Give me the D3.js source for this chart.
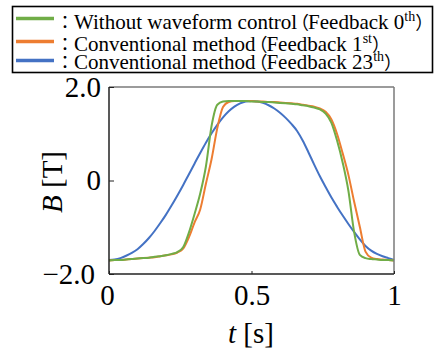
<!DOCTYPE html>
<html>
<head>
<meta charset="utf-8">
<script src="https://cdn.jsdelivr.net/npm/d3@7"></script>
<style>
  html, body { margin: 0; padding: 0; background: #fff; }
  svg { display: block; }
</style>
</head>
<body>
<svg id="chart" width="436" height="350"></svg>
<script>
// ---- data ----
const timeValues = [0,0.02,0.04,0.06,0.08,0.10,0.12,0.14,0.16,0.18,0.20,0.22,0.24,0.26,0.28,0.30,0.32,0.34,0.36,0.38,0.40,0.42,0.44,0.46,0.48,0.50,0.52,0.54,0.56,0.58,0.60,0.62,0.64,0.66,0.68,0.70,0.72,0.74,0.76,0.78,0.80,0.82,0.84,0.86,0.88,0.90,0.92,0.94,0.96,0.98,1.00];
const feedback0 = [-1.71,-1.70,-1.70,-1.69,-1.68,-1.67,-1.66,-1.65,-1.63,-1.62,-1.60,-1.57,-1.53,-1.43,-1.12,-0.72,-0.28,0.30,1.17,1.62,1.69,1.70,1.70,1.70,1.70,1.69,1.69,1.68,1.68,1.67,1.66,1.65,1.64,1.63,1.61,1.59,1.56,1.52,1.43,1.24,0.86,0.38,-0.22,-1.10,-1.59,-1.66,-1.68,-1.69,-1.70,-1.70,-1.71];
const feedback1 = [-1.71,-1.70,-1.70,-1.69,-1.68,-1.67,-1.66,-1.65,-1.64,-1.62,-1.60,-1.58,-1.54,-1.46,-1.22,-0.90,-0.62,-0.07,0.46,1.12,1.57,1.68,1.70,1.70,1.70,1.70,1.69,1.69,1.68,1.68,1.67,1.66,1.65,1.64,1.62,1.60,1.58,1.54,1.47,1.31,1.00,0.58,0.12,-0.45,-0.99,-1.52,-1.65,-1.68,-1.69,-1.70,-1.71];
const feedback23 = [-1.70,-1.69,-1.66,-1.61,-1.55,-1.47,-1.36,-1.23,-1.08,-0.91,-0.73,-0.53,-0.32,-0.10,0.13,0.36,0.59,0.81,1.01,1.19,1.35,1.48,1.58,1.65,1.69,1.70,1.69,1.66,1.61,1.54,1.45,1.34,1.21,1.06,0.85,0.60,0.34,0.09,-0.14,-0.36,-0.56,-0.75,-0.93,-1.10,-1.26,-1.40,-1.50,-1.57,-1.62,-1.66,-1.70];
const seriesNames = ["Without waveform control", "Conventional method", "Conventional method"];
const seriesOrders = ["0", "1", "23"];
const seriesSup = ["th", "st", "th"];
const seriesColors = ["#70AD47", "#ED7D31", "#4472C4"];
const xTicks = [0, 0.5, 1];
const xTickLabels = ["0", "0.5", "1"];
const yTicks = [-2, 0, 2];
const yTickLabels = ["\u22122.0", "0", "2.0"];

// ---- layout ----
const SERIF = "'Liberation Serif'";
const CJK = "'Noto Sans CJK JP'";
const svg = d3.select("#chart");
const plot = { left: 109, right: 394, top: 87, bottom: 274 };
const x = d3.scaleLinear().domain([0, 1]).range([plot.left, plot.right]);
const y = d3.scaleLinear().domain([-2, 2]).range([plot.bottom, plot.top]);

const seriesData = [feedback0, feedback1, feedback23];

const line = d3.line()
  .x((d, i) => x(timeValues[i]))
  .y(d => y(d))
  .curve(d3.curveMonotoneX);

[2, 1, 0].forEach(k => {
  svg.append("path")
    .datum(seriesData[k])
    .attr("d", line)
    .attr("fill", "none")
    .attr("stroke", seriesColors[k])
    .attr("stroke-width", 2);
});

// frame
svg.append("line").attr("x1", plot.left).attr("x2", plot.right).attr("y1", plot.top).attr("y2", plot.top)
  .attr("stroke", "#7a7a7a").attr("stroke-width", 1.5);
svg.append("line").attr("x1", plot.right).attr("x2", plot.right).attr("y1", plot.top).attr("y2", plot.bottom)
  .attr("stroke", "#7a7a7a").attr("stroke-width", 1.5);
svg.append("line").attr("x1", plot.left).attr("x2", plot.left).attr("y1", plot.top).attr("y2", plot.bottom)
  .attr("stroke", "#222").attr("stroke-width", 1.5);
svg.append("line").attr("x1", plot.left).attr("x2", plot.right).attr("y1", plot.bottom).attr("y2", plot.bottom)
  .attr("stroke", "#222").attr("stroke-width", 1.5);

// axes
const yAxis = d3.axisLeft(y).tickValues(yTicks)
  .tickFormat((d, i) => yTickLabels[i]).tickSizeInner(-5).tickSizeOuter(0).tickPadding(8);
const gy = svg.append("g").attr("transform", `translate(${plot.left},0)`).call(yAxis);
gy.attr("font-family", null).attr("font-size", null);
gy.select(".domain").remove();
gy.selectAll("line").attr("stroke", "#222").attr("stroke-width", 1);
gy.selectAll("text").style("font-family", SERIF).style("font-size", "29px")
  .attr("fill", "#000")
  .attr("dx", d => d === yTicks[0] ? -6 : 0);

const xAxis = d3.axisBottom(x).tickValues(xTicks)
  .tickFormat((d, i) => xTickLabels[i]).tickSizeInner(-3).tickSizeOuter(0).tickPadding(10);
const gx = svg.append("g").attr("transform", `translate(0,${plot.bottom})`).call(xAxis);
gx.attr("font-family", null).attr("font-size", null);
gx.select(".domain").remove();
gx.selectAll("line").attr("stroke", "#222").attr("stroke-width", 1);
gx.selectAll("text").style("font-family", SERIF).style("font-size", "29px")
  .attr("fill", "#000")
  .attr("dx", d => d === xTicks[0] ? -2 : 0);

// axis titles
const xt = svg.append("text").attr("x", 251).attr("y", 343).attr("text-anchor", "middle")
  .style("font-family", SERIF).style("font-size", "29px");
xt.append("tspan").style("font-style", "italic").text("t");
xt.append("tspan").text(" [s]");

const yt = svg.append("text").attr("transform", "translate(62,182) rotate(-90)")
  .attr("text-anchor", "middle").style("font-family", SERIF).style("font-size", "29px");
yt.append("tspan").style("font-style", "italic").text("B");
yt.append("tspan").text(" [T]");

// legend
const legend = svg.append("g");
legend.append("rect").attr("x", 12.5).attr("y", 6.5).attr("width", 420).attr("height", 66)
  .attr("fill", "#fff").attr("stroke", "#000").attr("stroke-width", 1.6);
const legRowsLineY = [18.5, 41.5, 60.5];
const legRowsTextY = [28.5, 50.5, 68.5];
seriesNames.forEach((name, i) => {
  legend.append("line").attr("x1", 16).attr("x2", 54)
    .attr("y1", legRowsLineY[i]).attr("y2", legRowsLineY[i])
    .attr("stroke", seriesColors[i]).attr("stroke-width", 3.5);
  const t = legend.append("text").attr("x", 56).attr("y", legRowsTextY[i])
    .style("font-family", SERIF).style("font-size", "21px");
  t.append("tspan").style("font-family", CJK).style("font-size", "18px").text("\uFF1A");
  t.append("tspan").text(name);
  t.append("tspan").style("font-family", CJK).style("font-size", "18px").attr("dx", -6).text("\uFF08");
  t.append("tspan").attr("dx", -1).text("Feedback " + seriesOrders[i]);
  t.append("tspan").style("font-size", "14px").attr("dy", -8).text(seriesSup[i]);
  t.append("tspan").style("font-family", CJK).style("font-size", "18px").attr("dy", 8).text("\uFF09");
});
</script>
</body>
</html>
